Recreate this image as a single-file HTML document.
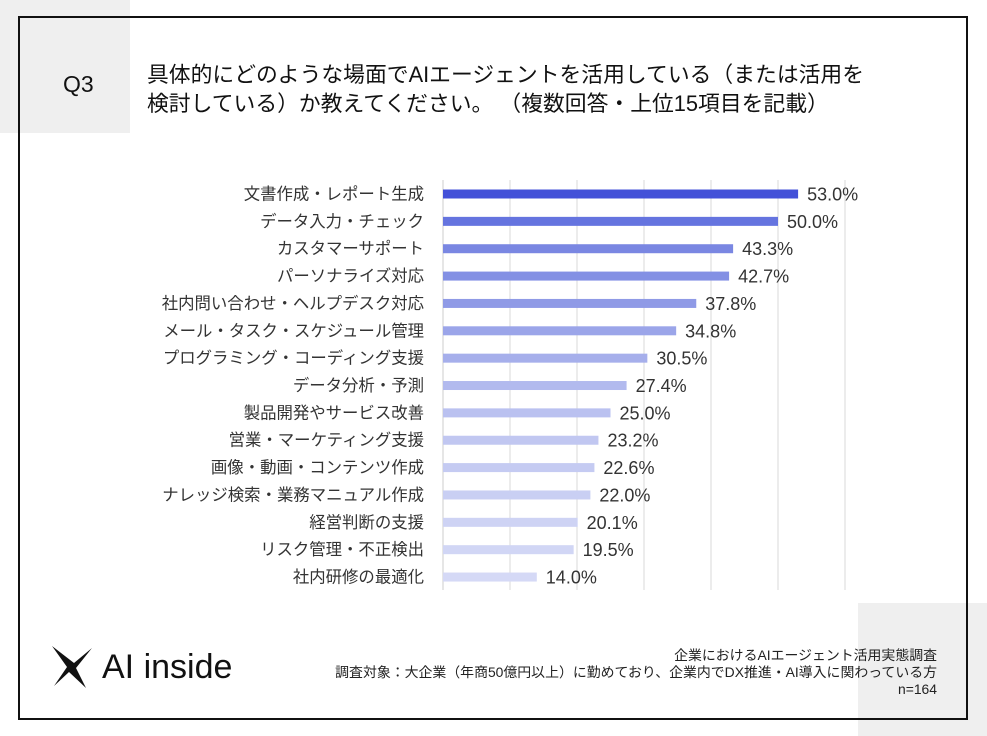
<!DOCTYPE html>
<html><head><meta charset="utf-8"><style>
body{margin:0;width:987px;height:736px;position:relative;background:#fff;font-family:"Liberation Sans","Noto Sans CJK JP",sans-serif;overflow:hidden}
.abs{position:absolute}
</style></head><body>
<div class="abs" style="left:0;top:0;width:130px;height:133px;background:#efefef"></div>
<div class="abs" style="left:858px;top:603px;width:129px;height:133px;background:#efefef"></div>
<div class="abs" style="left:18px;top:16px;width:946px;height:700px;border:2px solid #111;"></div>
<div class="abs" style="left:63px;top:71px;font-size:23px;color:#111">Q3</div>
<div class="abs" style="left:147px;top:60px;font-size:21.8px;line-height:29px;color:#111;white-space:nowrap">具体的にどのような場面でAIエージェントを活用している（または活用を<br>検討している）か教えてください。 （複数回答・上位15項目を記載）</div>
<svg class="abs" style="left:0;top:0" width="987" height="736">
<g id="grid"></g><g id="bars"></g>
</svg>
<div class="abs" style="left:52px;top:646px;display:flex;align-items:center">
<svg width="40" height="42" viewBox="0 0 40 42"><path d="M0 0 L22 17 L40 2 L24 22 L34 42 L17 26 L2 40 L15 21 Z" fill="#111"/></svg>
<span style="font-size:34px;margin-left:10px;color:#111;font-weight:500">AI inside</span></div>
<div class="abs" style="right:50px;top:647px;text-align:right;font-size:13.9px;line-height:17px;color:#222;white-space:nowrap">企業におけるAIエージェント活用実態調査<br>調査対象：大企業（年商50億円以上）に勤めており、企業内でDX推進・AI導入に関わっている方<br>n=164</div>
<script>
const categories=["文書作成・レポート生成","データ入力・チェック","カスタマーサポート","パーソナライズ対応","社内問い合わせ・ヘルプデスク対応","メール・タスク・スケジュール管理","プログラミング・コーディング支援","データ分析・予測","製品開発やサービス改善","営業・マーケティング支援","画像・動画・コンテンツ作成","ナレッジ検索・業務マニュアル作成","経営判断の支援","リスク管理・不正検出","社内研修の最適化"];
const values=[53.0,50.0,43.3,42.7,37.8,34.8,30.5,27.4,25.0,23.2,22.6,22.0,20.1,19.5,14.0];
const ticks=[0,10,20,30,40,50,60];
const NS="http://www.w3.org/2000/svg";
const x=v=>443+v*6.7, y=i=>194+i*27.36;
const grid=document.getElementById('grid'),bars=document.getElementById('bars');
ticks.forEach(t=>{if(t===0)return;const l=document.createElementNS(NS,'line');
l.setAttribute('x1',x(t));l.setAttribute('x2',x(t));l.setAttribute('y1',180);l.setAttribute('y2',590);
l.setAttribute('stroke','#d8d8d8');l.setAttribute('stroke-width','1');


grid.appendChild(l);});
const cols=["#4351d8","#6574df","#7a87e2","#8390e4","#8f9ae6","#9ba5e9","#a6afeb","#b2baee","#bac1f0","#c1c7f1","#c5cbf2","#c9cff3","#ced3f4","#d1d6f5","#d5d9f6"];
categories.forEach((c,i)=>{
const r=document.createElementNS(NS,'rect');
r.setAttribute('x',443);r.setAttribute('y',y(i)-4.5);r.setAttribute('width',x(values[i])-443);r.setAttribute('height',9);r.setAttribute('fill',cols[i]);


bars.appendChild(r);
const t=document.createElementNS(NS,'text');
t.setAttribute('x',424);t.setAttribute('y',y(i)+5.5);t.setAttribute('text-anchor','end');t.setAttribute('font-size','16.4');t.setAttribute('fill','#333');t.textContent=c;


bars.appendChild(t);
const v=document.createElementNS(NS,'text');
v.setAttribute('x',x(values[i])+9);v.setAttribute('y',y(i)+6.5);v.setAttribute('font-size','18');v.setAttribute('fill','#333');v.textContent=values[i].toFixed(1)+'%';


bars.appendChild(v);
});
const ax=document.createElementNS(NS,'line');
ax.setAttribute('x1',443);ax.setAttribute('x2',443);ax.setAttribute('y1',180);ax.setAttribute('y2',590);ax.setAttribute('stroke','#ccc');


grid.appendChild(ax);
</script>
</body></html>
